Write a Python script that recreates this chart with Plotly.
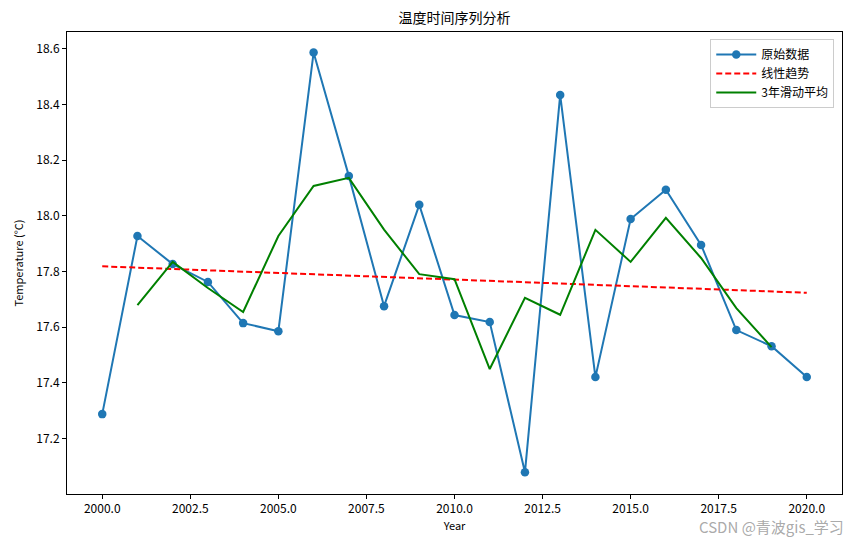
import plotly.graph_objects as go

years = list(range(2000, 2021))
temps = [17.287, 17.927, 17.826, 17.762, 17.614, 17.585, 18.586, 18.143, 17.675, 18.039,
         17.643, 17.618, 17.078, 18.434, 17.420, 17.988, 18.093, 17.895, 17.589, 17.531, 17.420]
ma_years = list(range(2001, 2020))
ma_vals = [17.679, 17.834, 17.740, 17.654, 17.927, 18.107, 18.136, 17.950, 17.790, 17.772,
           17.449, 17.705, 17.644, 17.949, 17.834, 17.992, 17.848, 17.668, 17.528]
trend_years = [2000, 2020]
trend_vals = [17.818, 17.723]

FONT = "Noto Sans CJK SC, DejaVu Sans, sans-serif"

fig = go.Figure()
fig.add_trace(go.Scatter(x=years, y=temps, mode="lines+markers", name="原始数据",
                         line=dict(color="#1f77b4", width=2),
                         marker=dict(size=8.5, color="#1f77b4")))
fig.add_trace(go.Scatter(x=trend_years, y=trend_vals, mode="lines", name="线性趋势",
                         line=dict(color="red", width=2, dash="6px,3px")))
fig.add_trace(go.Scatter(x=ma_years, y=ma_vals, mode="lines", name="3年滑动平均",
                         line=dict(color="green", width=2)))

axis_common = dict(showline=True, linecolor="black", linewidth=1, mirror=True,
                   ticks="outside", ticklen=4, tickcolor="black", showgrid=False,
                   zeroline=False, tickfont=dict(size=12, color="black", family=FONT))

fig.update_layout(
    width=851, height=543,
    margin=dict(l=67, r=9, t=32, b=49),
    plot_bgcolor="white", paper_bgcolor="white",
    font=dict(family=FONT, color="black"),
    title=dict(text="温度时间序列分析", x=0.534, xanchor="center", y=0.967, yanchor="middle",
               font=dict(size=14, color="black", family=FONT)),
    xaxis=dict(range=[1999, 2021], tickvals=[2000, 2002.5, 2005, 2007.5, 2010, 2012.5, 2015, 2017.5, 2020],
               tickformat=".1f", title=dict(text="Year", font=dict(size=11, family=FONT), standoff=6),
               **axis_common),
    yaxis=dict(range=[17.0, 18.66], tickvals=[17.2, 17.4, 17.6, 17.8, 18.0, 18.2, 18.4, 18.6],
               tickformat=".1f", title=dict(text="Temperature (°C)", font=dict(size=11, family=FONT), standoff=10),
               **axis_common),
    legend=dict(x=0.99, y=0.985, xanchor="right", yanchor="top", bgcolor="rgba(255,255,255,0.8)",
                bordercolor="#cccccc", borderwidth=1, font=dict(size=12, family=FONT),
                tracegroupgap=0, itemwidth=40),
    showlegend=True,
)

fig.add_annotation(text="CSDN @青波gis_学习", xref="paper", yref="paper", x=1.005, y=-0.07,
                   xanchor="right", yanchor="middle", showarrow=False,
                   font=dict(size=15, color="rgba(160,160,160,0.9)", family=FONT))

fig.write_html("out.html", config={"displayModeBar": False},
               post_script="document.body.style.margin='0px';document.body.style.overflow='hidden';")
